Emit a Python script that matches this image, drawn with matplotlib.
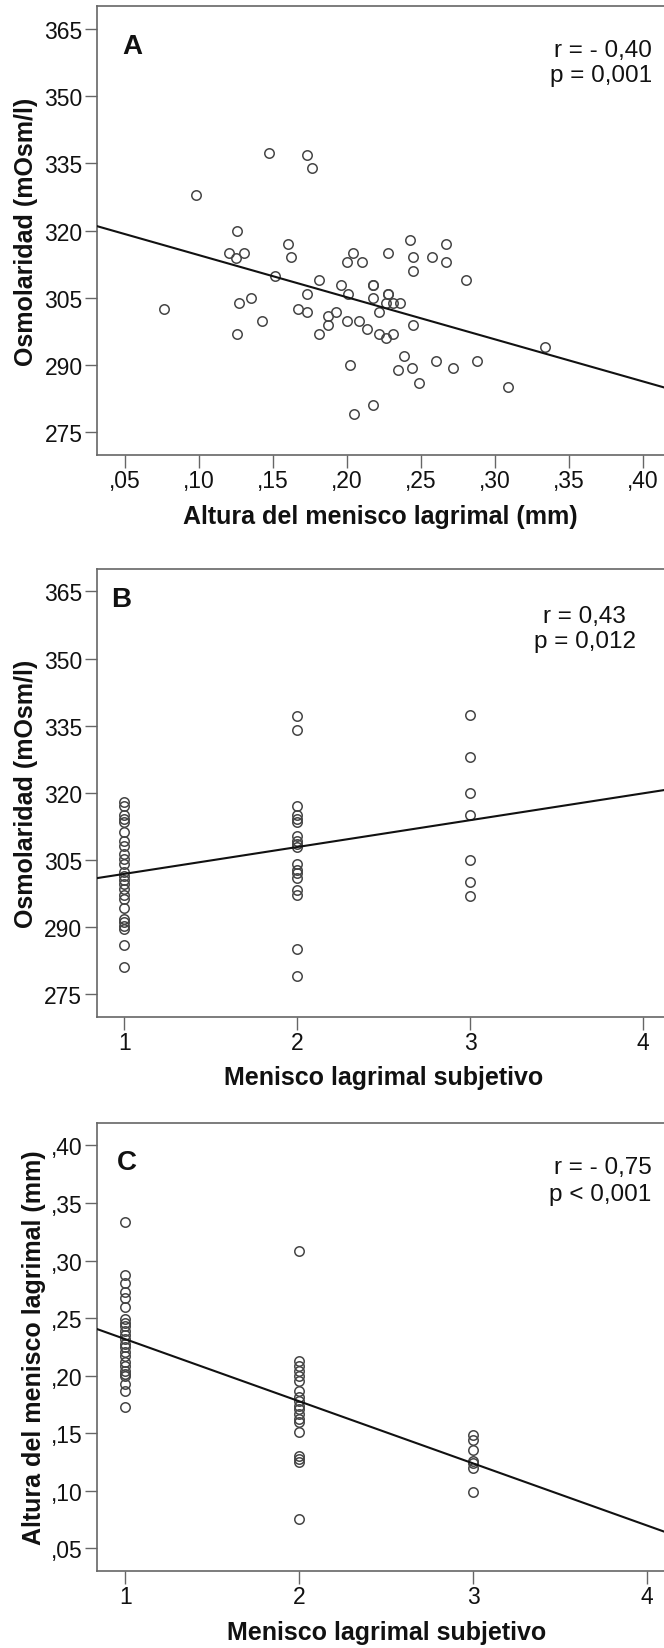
import matplotlib
matplotlib.use("Agg")
import matplotlib.pyplot as plt
import numpy as np

plt.rcParams["font.family"] = ["Liberation Sans", "DejaVu Sans"]

# ---------------- data ----------------
# Panel A: tear meniscus height (mm) vs osmolarity (mOsm/l)
A_height = [0.1475, 0.1732, 0.1766, 0.0980, 0.1256, 0.1204, 0.1253, 0.1301,
            0.1603, 0.1623, 0.1515, 0.0766, 0.1271, 0.1353, 0.1429, 0.1256,
            0.1811, 0.1732, 0.1671, 0.1732, 0.1811, 0.1872, 0.1872, 0.1923,
            0.1962, 0.2005, 0.2002, 0.2043, 0.2002, 0.2023, 0.2050,
            0.2100, 0.2173, 0.2173, 0.2277, 0.2277, 0.2277, 0.2177, 0.2261,
            0.2311, 0.2360, 0.2218, 0.2132, 0.2084, 0.2218, 0.2265, 0.2311,
            0.2448, 0.2428, 0.2448, 0.2448, 0.2577, 0.2667, 0.2667, 0.2807,
            0.2387, 0.2347, 0.2439, 0.2599, 0.2717, 0.2879, 0.2489, 0.3089,
            0.3337, 0.2177]
A_osm = [337.4, 336.9, 334.0, 327.9, 320.0, 314.9, 313.9, 314.9,
         316.9, 314.0, 309.9, 302.4, 303.9, 305.0, 299.9, 297.0,
         309.0, 305.9, 302.4, 301.9, 297.0, 300.9, 298.9, 301.9,
         307.9, 305.9, 313.0, 314.9, 299.9, 289.9, 279.0,
         313.0, 307.9, 307.9, 314.9, 305.9, 305.9, 305.0, 303.9,
         303.9, 303.9, 301.9, 298.0, 299.9, 297.0, 296.0, 297.0,
         298.9, 318.0, 314.0, 310.9, 314.0, 316.9, 313.0, 309.0,
         292.0, 289.0, 289.4, 291.0, 289.4, 291.0, 286.0, 285.0,
         294.0, 281.0]
A_fit = (323.9, -93.9)          # intercept, slope
A_stats = ["r = - 0,40", "p = 0,001"]

# Panel B: subjective tear meniscus (grade) vs osmolarity
B_grades = [1, 2, 3]
B_osm_g1 = [318.0, 317.0, 315.1, 314.2, 313.4, 311.2, 309.2, 308.2, 306.3,
            305.2, 304.1, 302.4, 301.5, 300.6, 299.7, 298.6, 297.2, 296.2,
            294.2, 291.9, 291.1, 290.2, 289.5, 286.1, 281.1]
B_osm_g2 = [337.1, 334.0, 317.1, 315.1, 314.2, 313.4, 310.4, 309.3, 308.5,
            307.9, 304.2, 302.7, 302.2, 301.0, 298.2, 297.2, 285.2, 279.1]
B_osm_g3 = [337.5, 328.0, 320.0, 315.0, 305.0, 300.0, 297.0]
B_fit = (295.9, 6.0)
B_stats = ["r = 0,43", "p = 0,012"]

# Panel C: subjective tear meniscus (grade) vs meniscus height (mm)
C_grades = [1, 2, 3]
C_height_g1 = [0.3338, 0.2878, 0.2808, 0.2724, 0.2675, 0.2594, 0.2492, 0.2458,
               0.2435, 0.2391, 0.2354, 0.2319, 0.2275, 0.2246, 0.2203, 0.2168,
               0.2122, 0.2087, 0.2044, 0.2015, 0.2000, 0.1928, 0.1867, 0.1725]
C_height_g2 = [0.3086, 0.2131, 0.2087, 0.2044, 0.2000, 0.1957, 0.1870, 0.1812,
               0.1783, 0.1740, 0.1711, 0.1667, 0.1624, 0.1595, 0.1508, 0.1306,
               0.1277, 0.1248, 0.0755]
C_height_g3 = [0.1480, 0.1442, 0.1355, 0.1259, 0.1245, 0.1198, 0.0985]
C_fit = (0.2857, -0.0540)
C_stats = ["r = - 0,75", "p < 0,001"]

# Axis ticks and labels
osm_ticks = [275, 290, 305, 320, 335, 350, 365]
osm_ticklabels = ["275", "290", "305", "320", "335", "350", "365"]
height_ticks = [0.05, 0.10, 0.15, 0.20, 0.25, 0.30, 0.35, 0.40]
height_ticklabels = [",05", ",10", ",15", ",20", ",25", ",30", ",35", ",40"]
grade_ticks = [1, 2, 3, 4]
grade_ticklabels = ["1", "2", "3", "4"]

label_osm = "Osmolaridad (mOsm/l)"
label_height = "Altura del menisco lagrimal (mm)"
label_grade = "Menisco lagrimal subjetivo"

# ---------------- layout helpers ----------------
W, H = 664, 1649
fig = plt.figure(figsize=(W / 100, H / 100), dpi=100)

SPINE = "#666666"
MARK = "#454545"


def add_axes_px(left, top, right, bottom):
    return fig.add_axes([left / W, 1 - bottom / H, (right - left) / W, (bottom - top) / H])


def ftext(x, y, s, **kw):
    return fig.text(x / W, 1 - y / H, s, **kw)


def style(ax, xlim, ylim, xt, xtl, yt, ytl):
    ax.set_xlim(*xlim)
    ax.set_ylim(*ylim)
    ax.set_xticks(xt)
    ax.set_xticklabels(xtl)
    ax.set_yticks(yt)
    ax.set_yticklabels(ytl)
    for sp in ax.spines.values():
        sp.set_color(SPINE)
        sp.set_linewidth(1.2)
    ax.tick_params(axis="both", direction="out", length=9, width=1.0,
                   color=SPINE, labelsize=16.5, labelcolor="#111111")
    ax.tick_params(axis="y", pad=1.2)
    ax.tick_params(axis="x", pad=1.0)


def scatter(ax, x, y):
    ax.plot(x, y, linestyle="none", marker="o", mfc="none", mec=MARK,
            ms=6.8, mew=1.1, zorder=2)


def fit_line(ax, coef):
    x0, x1 = ax.get_xlim()
    xs = np.array([x0, x1])
    ax.plot(xs, coef[0] + coef[1] * xs, color="#111111", lw=1.5, zorder=3)


bold = dict(fontweight="bold", fontsize=18, color="#111111")
letter = dict(fontweight="bold", fontsize=20, color="#111111")
stat = dict(fontsize=17.5, color="#111111")

# ---------------- Panel A ----------------
axA = add_axes_px(96.7, 7.4, 700, 455.7)
style(axA, (0.03088, 0.4385), (270, 370), height_ticks, height_ticklabels,
      osm_ticks, osm_ticklabels)
scatter(axA, A_height, A_osm)
fit_line(axA, A_fit)
ftext(122, 54, "A", ha="left", va="baseline", **letter)
ftext(652, 56.7, A_stats[0], ha="right", va="baseline", **stat)
ftext(652, 81.7, A_stats[1], ha="right", va="baseline", **stat)
ftext(380, 524, label_height, ha="center", va="baseline", **bold)
ftext(33, 231.6, label_osm, rotation=90, rotation_mode="anchor",
      ha="center", va="baseline", **bold)

# ---------------- Panel B ----------------
axB = add_axes_px(96.5, 570, 700, 1017.7)
style(axB, (0.8393, 4.3277), (270, 370), grade_ticks, grade_ticklabels,
      osm_ticks, osm_ticklabels)
for g, vals in zip(B_grades, [B_osm_g1, B_osm_g2, B_osm_g3]):
    scatter(axB, np.full(len(vals), g), vals)
fit_line(axB, B_fit)
ftext(111, 606.7, "B", ha="left", va="baseline", **letter)
ftext(584.5, 623.3, B_stats[0], ha="center", va="baseline", **stat)
ftext(584.5, 648.3, B_stats[1], ha="center", va="baseline", **stat)
ftext(384, 1085.5, label_grade, ha="center", va="baseline", **bold)
ftext(33, 793.8, label_osm, rotation=90, rotation_mode="anchor",
      ha="center", va="baseline", **bold)

# ---------------- Panel C ----------------
axC = add_axes_px(96.5, 1124, 700, 1572.3)
style(axC, (0.8345, 4.3029), (0.03, 0.4195), grade_ticks, grade_ticklabels,
      height_ticks, height_ticklabels)
for g, vals in zip(C_grades, [C_height_g1, C_height_g2, C_height_g3]):
    scatter(axC, np.full(len(vals), g), vals)
fit_line(axC, C_fit)
ftext(117, 1170, "C", ha="left", va="baseline", **letter)
ftext(651.7, 1174, C_stats[0], ha="right", va="baseline", **stat)
ftext(651.7, 1200.7, C_stats[1], ha="right", va="baseline", **stat)
ftext(387, 1640, label_grade, ha="center", va="baseline", **bold)
ftext(41, 1348, label_height, rotation=90, rotation_mode="anchor",
      ha="center", va="baseline", **bold)

fig.savefig("out.png", dpi=100, facecolor="white")
